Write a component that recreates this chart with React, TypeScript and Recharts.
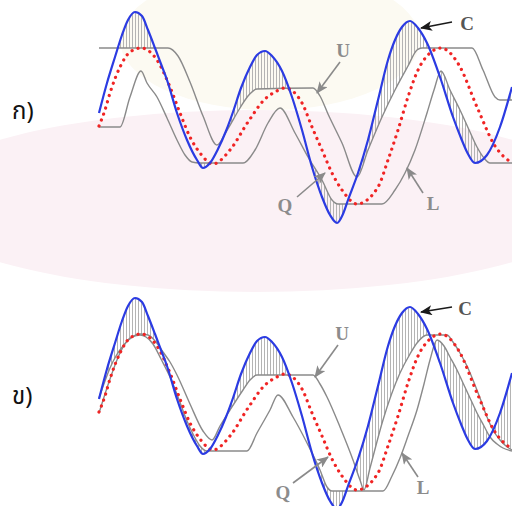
import React from 'react';
import { ComposedChart, Line, Area, XAxis, YAxis, ReferenceLine, ReferenceDot } from 'recharts';

// time axis (t) and signal level (v)
const cT = [0, 8, 16, 23, 29, 36, 43, 49, 56, 62, 68, 78, 88, 98, 104, 111, 119, 127, 134, 142, 151, 158, 166, 173, 183, 193, 203, 213, 223, 231, 238, 244, 249, 259, 269, 279, 289, 296, 303, 311, 319, 328, 341, 354, 362, 368, 376, 388, 401, 413];
const cV = [127, 157, 183, 205, 220, 228, 224, 210, 192, 176, 160, 127, 100, 80, 72, 77, 91, 109, 128, 152, 173, 185, 189, 184, 169, 143, 110, 73, 43, 25, 17, 26, 40, 67, 100, 140, 180, 200, 213, 219, 212, 197, 163, 123, 102, 88, 77, 85, 113, 153];

const qT = [0, 6, 11, 21, 31, 42, 58, 71, 81, 91, 101, 114, 131, 149, 166, 176, 186, 203, 213, 223, 233, 243, 258, 279, 289, 299, 309, 319, 331, 342, 360, 378, 396, 413];
const qV = [114, 130, 147, 173, 188, 192, 180, 153, 127, 103, 87, 76, 90, 118, 141, 148, 152, 137, 113, 90, 67, 50, 36, 53, 80, 110, 143, 170, 187, 192, 175, 133, 94, 77];

// panel ก)
const u1T = [0, 69, 79, 91, 104, 118, 127, 141, 149, 158, 214, 221, 229, 243, 258, 269, 283, 296, 309, 318, 323, 373, 384, 396, 401, 413];
const u1V = [192, 192, 184, 158, 124, 95, 108, 132, 144, 151, 152, 144, 126, 97, 63, 90, 123, 150, 174, 190, 192, 192, 170, 143, 140, 140];
const l1T = [0, 21, 31, 42, 48, 58, 68, 78, 86, 93, 101, 144, 156, 169, 181, 196, 209, 223, 233, 239, 283, 296, 306, 316, 328, 335, 342, 351, 361, 371, 378, 385, 391, 413];
const l1V = [113, 113, 143, 169, 157, 143, 122, 100, 85, 78, 77, 77, 90, 117, 132, 107, 83, 60, 40, 36, 36, 50, 67, 90, 127, 150, 169, 150, 130, 108, 93, 82, 77, 77];

// panel ข)
const u2T = [0, 6, 11, 17, 24, 32, 41, 49, 57, 64, 71, 78, 91, 104, 113, 121, 131, 144, 151, 158, 214, 221, 228, 241, 254, 261, 265, 271, 284, 301, 311, 318, 328, 348, 354, 361, 368, 374, 381, 388, 394, 401, 407, 413];
const u2V = [128, 145, 158, 170, 180, 188, 192, 191, 184, 174, 164, 151, 122, 95, 86, 100, 116, 136, 146, 151, 151, 142, 129, 99, 66, 46, 36, 58, 106, 153, 172, 183, 191, 191, 184, 173, 160, 146, 128, 109, 96, 86, 80, 76];
const l2T = [0, 11, 21, 31, 41, 47, 54, 62, 71, 79, 88, 95, 101, 108, 148, 158, 171, 179, 194, 208, 221, 228, 233, 284, 293, 301, 309, 318, 325, 331, 338, 345, 351, 358, 364, 371, 378, 385, 391, 398, 404, 413];
const l2V = [113, 147, 173, 188, 191, 189, 182, 167, 149, 129, 105, 90, 80, 75, 75, 93, 116, 131, 109, 83, 56, 39, 35, 35, 50, 68, 90, 116, 142, 166, 186, 180, 169, 156, 143, 128, 113, 100, 89, 82, 78, 75];

const labels1 = [
  { name: 'C', at: [368, 217], from: [353, 218], to: [322, 212], dark: true },
  { name: 'U', at: [244, 190], from: [241, 178], to: [218, 147], dark: false },
  { name: 'Q', at: [186, 35], from: [198, 43], to: [226, 67], dark: false },
  { name: 'L', at: [334, 37], from: [324, 47], to: [308, 72], dark: false },
];
const labels2 = [
  { name: 'C', at: [366, 218], from: [353, 219], to: [322, 214], dark: true },
  { name: 'U', at: [243, 193], from: [239, 181], to: [216, 149], dark: false },
  { name: 'Q', at: [184, 34], from: [194, 43], to: [229, 69], dark: false },
  { name: 'L', at: [324, 39], from: [319, 49], to: [303, 73], dark: false },
];

const pts = (ts: number[], vs: number[]) => ts.map((t, i) => ({ t, v: vs[i] }));

// same monotone curve as the lines use, to place the hatching between them
function mono(ts: number[], vs: number[], x: number): number {
  const n = ts.length;
  if (x <= ts[0]) return vs[0];
  if (x >= ts[n - 1]) return vs[n - 1];
  const s: number[] = [];
  for (let i = 0; i < n - 1; i++) s.push((vs[i + 1] - vs[i]) / (ts[i + 1] - ts[i]));
  const m: number[] = new Array(n).fill(0);
  const sg = (a: number) => (a < 0 ? -1 : 1);
  for (let i = 1; i < n - 1; i++) {
    const h0 = ts[i] - ts[i - 1];
    const h1 = ts[i + 1] - ts[i];
    const p = (s[i - 1] * h1 + s[i] * h0) / (h0 + h1);
    m[i] = (sg(s[i - 1]) + sg(s[i])) * Math.min(Math.abs(s[i - 1]), Math.abs(s[i]), 0.5 * Math.abs(p)) || 0;
  }
  m[0] = (3 * s[0] - m[1]) / 2;
  m[n - 1] = (3 * s[n - 2] - m[n - 2]) / 2;
  let i = 0;
  while (i < n - 2 && x > ts[i + 1]) i++;
  const h = ts[i + 1] - ts[i];
  const u = (x - ts[i]) / h;
  const u2 = u * u;
  const u3 = u2 * u;
  return (2 * u3 - 3 * u2 + 1) * vs[i] + (u3 - 2 * u2 + u) * h * m[i] + (-2 * u3 + 3 * u2) * vs[i + 1] + (u3 - u2) * h * m[i + 1];
}

function bandData(uT: number[], uV: number[], lT: number[], lV: number[]) {
  const out: { t: number; band: [number, number] }[] = [];
  for (let t = 0; t <= 413; t += 0.5) {
    const c = mono(cT, cV, t);
    const u = mono(uT, uV, t);
    const l = mono(lT, lV, t);
    let band: [number, number] = [c, c];
    if (c > u) band = [u, c];
    else if (c < l) band = [c, l];
    out.push({ t, band });
  }
  return out;
}

type Note = { name: string; at: number[]; from: number[]; to: number[]; dark: boolean };

function Panel({ uT, uV, lT, lV, notes }: { uT: number[]; uV: number[]; lT: number[]; lV: number[]; notes: Note[] }) {
  const band = bandData(uT, uV, lT, lV);
  return (
    <ComposedChart width={512} height={240} margin={{ top: 0, right: 0, bottom: 0, left: 0 }}>
      <XAxis type="number" dataKey="t" domain={[-99, 413]} hide allowDataOverflow />
      <YAxis type="number" domain={[0, 240]} hide allowDataOverflow />
      <Area data={band} dataKey="band" type="linear" stroke="none" fill="url(#hatchLines)" fillOpacity={1} isAnimationActive={false} activeDot={false} />
      <Line data={pts(uT, uV)} dataKey="v" type="monotone" stroke="#8a8a8a" strokeWidth={1.4} dot={false} activeDot={false} isAnimationActive={false} />
      <Line data={pts(lT, lV)} dataKey="v" type="monotone" stroke="#8a8a8a" strokeWidth={1.4} dot={false} activeDot={false} isAnimationActive={false} />
      <Line data={pts(qT, qV)} dataKey="v" type="monotone" stroke="#f02424" strokeWidth={3.2} strokeDasharray="0.1 6.3" strokeLinecap="round" dot={false} activeDot={false} isAnimationActive={false} />
      <Line data={pts(cT, cV)} dataKey="v" type="monotone" stroke="#2b3be2" strokeWidth={2.2} dot={false} activeDot={false} isAnimationActive={false} />
      {notes.map((n) => (
        <ReferenceLine
          key={'a' + n.name}
          segment={[{ x: n.from[0], y: n.from[1] }, { x: n.to[0], y: n.to[1] }]}
          ifOverflow="visible"
          shape={(p: any) => (
            <line x1={p.x1} y1={p.y1} x2={p.x2} y2={p.y2} stroke={n.dark ? '#1a1a1a' : '#8a8a8a'} strokeWidth={1.6} markerEnd={n.dark ? 'url(#arrowDark)' : 'url(#arrowGray)'} />
          )}
        />
      ))}
      {notes.map((n) => (
        <ReferenceDot
          key={'t' + n.name}
          x={n.at[0]}
          y={n.at[1]}
          r={1}
          ifOverflow="visible"
          shape={(p: any) => (
            <text x={p.cx} y={p.cy} textAnchor="middle" dominantBaseline="central" fontFamily="'Liberation Serif', 'DejaVu Serif', serif" fontSize={19} fontWeight="bold" fill={n.dark ? '#555' : '#8c8c8c'}>
              {n.name}
            </text>
          )}
        />
      ))}
    </ComposedChart>
  );
}

export default function App() {
  return (
    <div style={{ position: 'absolute', left: 0, top: 0, width: 512, height: 506, overflow: 'hidden', background: '#ffffff' }}>
      <svg width={0} height={0} style={{ position: 'absolute' }}>
        <defs>
          <pattern id="hatchLines" x={0} y={0} width={3} height={10} patternUnits="userSpaceOnUse">
            <line x1={0.5} y1={0} x2={0.5} y2={10} stroke="#ababab" strokeWidth={0.9} />
          </pattern>
          <marker id="arrowDark" markerWidth={12} markerHeight={10} refX={11} refY={5} orient="auto" markerUnits="userSpaceOnUse">
            <path d="M0,0 L12,5 L0,10 L3,5 z" fill="#1a1a1a" />
          </marker>
          <marker id="arrowGray" markerWidth={12} markerHeight={10} refX={11} refY={5} orient="auto" markerUnits="userSpaceOnUse">
            <path d="M0,0 L12,5 L0,10 L3,5 z" fill="#8a8a8a" />
          </marker>
        </defs>
      </svg>
      <div style={{ position: 'absolute', left: 120, top: -30, width: 300, height: 140, borderRadius: '50%', background: '#fcfaf2' }} />
      <div style={{ position: 'absolute', left: -90, top: 110, width: 692, height: 182, borderRadius: '50%', background: '#fbf1f5' }} />
      <div style={{ position: 'absolute', left: 0, top: 0 }}>
        <Panel uT={u1T} uV={u1V} lT={l1T} lV={l1V} notes={labels1} />
      </div>
      <div style={{ position: 'absolute', left: 0, top: 286 }}>
        <Panel uT={u2T} uV={u2V} lT={l2T} lV={l2V} notes={labels2} />
      </div>
      <svg width={512} height={506} style={{ position: 'absolute', left: 0, top: 0, pointerEvents: 'none' }}>
        <text x={12} y={119} fontFamily="'Noto Sans Thai', 'Noto Sans', sans-serif" fontSize={24} fill="#111">ก)</text>
        <text x={12} y={404} fontFamily="'Noto Sans Thai', 'Noto Sans', sans-serif" fontSize={24} fill="#111">ข)</text>
      </svg>
    </div>
  );
}
